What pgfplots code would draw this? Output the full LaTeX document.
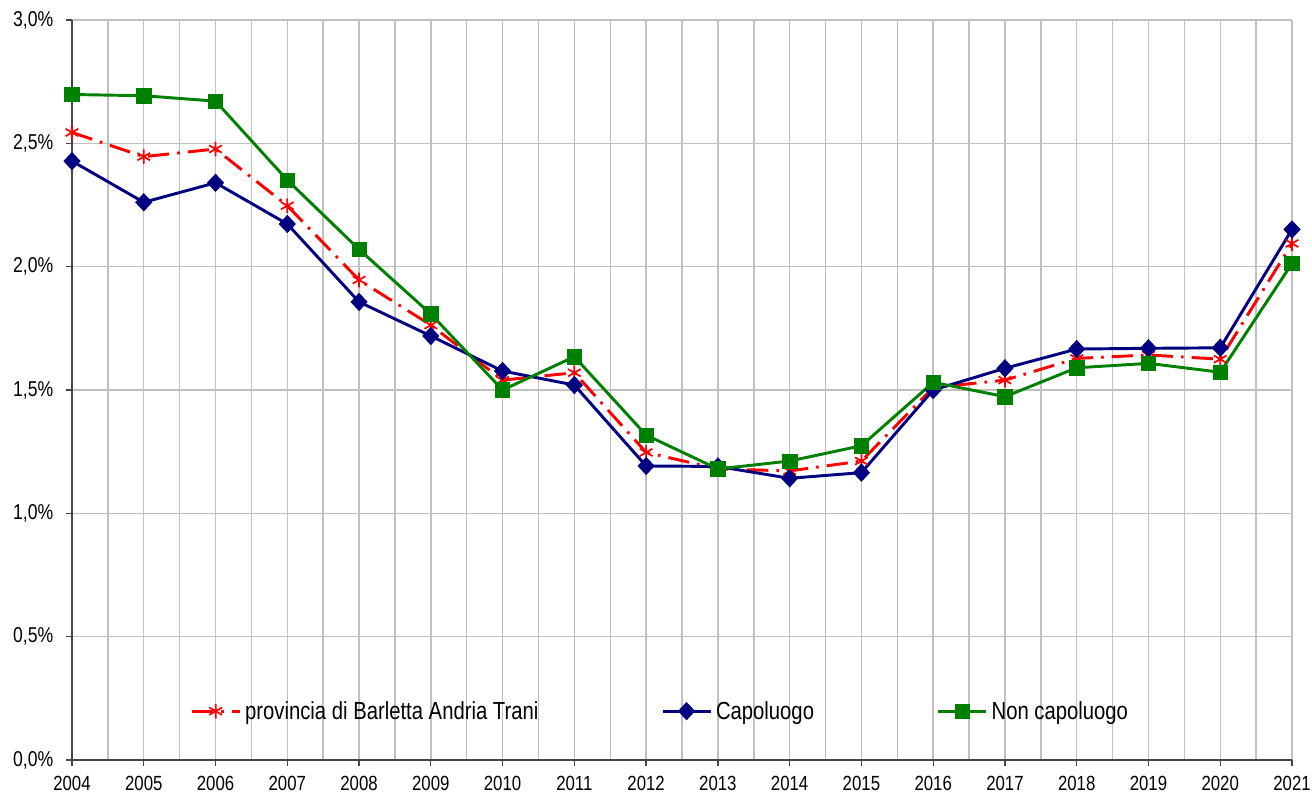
\documentclass[border=0pt]{standalone}
\usepackage{pgfplots}
\pgfplotsset{compat=1.18}
\usepackage{fontspec}
\setmainfont{Liberation Sans}
\definecolor{cred}{RGB}{255,0,0}
\definecolor{cblue}{RGB}{0,0,128}
\definecolor{cgreen}{RGB}{0,128,0}
\definecolor{cgrid}{RGB}{192,192,192}
\definecolor{caxis}{RGB}{70,70,70}
\newcommand{\vs}[1]{\scalebox{1}[1.22]{#1}}
\begin{document}
\begin{tikzpicture}
\begin{axis}[name=ax, scale only axis, width=915pt, height=555pt,
 xmin=2004, xmax=2021, ymin=0, ymax=3,
 xtick={2004,2005,2006,2007,2008,2009,2010,2011,2012,2013,2014,2015,2016,2017,2018,2019,2020,2021},
 ytick={0,0.5,1,1.5,2,2.5,3},
 minor x tick num=1,
 grid=both,
 major grid style={cgrid, line width=1.1pt},
 minor grid style={cgrid, line width=1.1pt},
 axis x line*=bottom, axis y line*=left,
 axis line style={caxis, line width=1.1pt, -},
 tick align=outside, major tick length=4.5pt, minor tick length=0pt,
 tick style={caxis, line width=1pt},
 /pgf/number format/assume math mode=true,
 xticklabel={\vs{\pgfmathprintnumber[1000 sep={}]{\tick}}},
 xticklabel style={font=\fontsize{12.6}{14}\selectfont, yshift=-4pt},
 yticklabel style={font=\fontsize{13.2}{15}\selectfont, xshift=-6pt},
 yticklabel={\vs{\pgfmathprintnumber[fixed,fixed zerofill,precision=1,use comma]{\tick}\%}},
 legend columns=3,
 legend style={at={(axis description cs:0.0967,0.066)}, anchor=west, draw=none, fill=none, inner sep=0pt,
   font=\fontsize{15.2}{17}\selectfont,
   /tikz/every even column/.append style={column sep=90pt},
   /tikz/every odd column/.append style={column sep=1pt}},
 legend image code/.code={\draw[mark repeat=2,mark phase=2,#1] plot coordinates {(0pt,0pt) (18pt,0pt) (36pt,0pt)};},
]
\addplot[cred, line width=2.2pt, dash pattern=on 16pt off 6pt on 2pt off 6pt, mark=asterisk, mark size=5.5pt, mark options={solid, line width=1.3pt}] coordinates {
(2004,2.544) (2005,2.446) (2006,2.477) (2007,2.247) (2008,1.946) (2009,1.763) (2010,1.54) (2011,1.570) (2012,1.247) (2013,1.18) (2014,1.172) (2015,1.212) (2016,1.51) (2017,1.540) (2018,1.628) (2019,1.642) (2020,1.625) (2021,2.094)};
\addlegendentry{\vs{provincia di Barletta Andria Trani}}
\addplot[cblue, line width=2.2pt, mark=diamond*, mark size=6.5pt, mark options={solid, xscale=1.25, line width=0.5pt}] coordinates {
(2004,2.428) (2005,2.261) (2006,2.340) (2007,2.173) (2008,1.857) (2009,1.719) (2010,1.577) (2011,1.520) (2012,1.192) (2013,1.19) (2014,1.142) (2015,1.165) (2016,1.50) (2017,1.588) (2018,1.666) (2019,1.669) (2020,1.671) (2021,2.151)};
\addlegendentry{\vs{Capoluogo}}
\addplot[cgreen, line width=2.2pt, mark=square*, mark size=5.4pt, mark options={solid, line width=0.5pt}] coordinates {
(2004,2.698) (2005,2.693) (2006,2.671) (2007,2.351) (2008,2.070) (2009,1.808) (2010,1.500) (2011,1.635) (2012,1.317) (2013,1.180) (2014,1.212) (2015,1.274) (2016,1.531) (2017,1.473) (2018,1.590) (2019,1.608) (2020,1.572) (2021,2.013)};
\addlegendentry{\vs{Non capoluogo}}
\end{axis}
\pgfresetboundingbox
\path ([xshift=-54pt,yshift=-27pt]ax.south west) rectangle ([xshift=15pt,yshift=15pt]ax.north east);
\end{tikzpicture}
\end{document}
